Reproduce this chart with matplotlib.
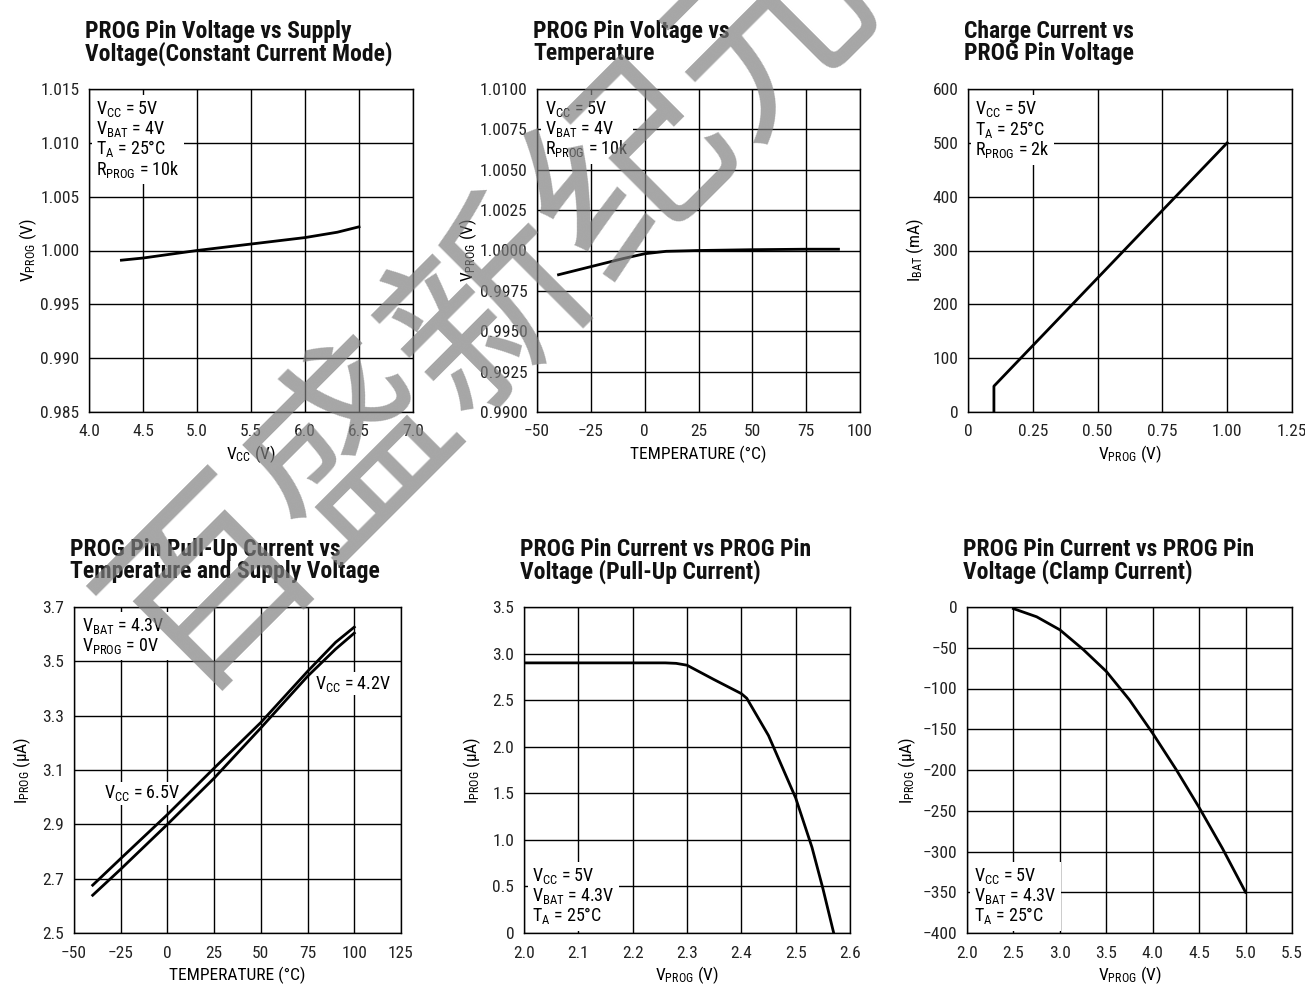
import matplotlib
matplotlib.use("Agg")
import matplotlib.pyplot as plt
from matplotlib import font_manager

W, H = 1305, 985

# a narrow face looks closest to the datasheet font
ttf = font_manager.fontManager.ttflist
names = {f.name for f in ttf}
STRETCH = 'normal'
if 'Liberation Sans Narrow' in names:
    FONT = 'Liberation Sans Narrow'
elif 'Roboto Condensed' in names:
    FONT = 'Roboto Condensed'
else:
    FONT = 'DejaVu Sans'
    if any(f.name == 'DejaVu Sans' and f.stretch == 'condensed' for f in ttf):
        STRETCH = 'condensed'
plt.rcParams['font.family'] = [FONT, 'DejaVu Sans']
plt.rcParams['font.stretch'] = STRETCH
plt.rcParams['mathtext.default'] = 'regular'

# PROG pin voltage vs supply voltage
vcc = [4.3, 4.5, 5.0, 5.5, 6.0, 6.3, 6.5]
vprog_vcc = [0.9991, 0.9993, 1.0000, 1.0006, 1.0012, 1.0017, 1.0022]

# PROG pin voltage vs temperature
temp2 = [-40, -25, -10, 0, 10, 25, 50, 75, 90]
vprog_temp = [0.99850, 0.99900, 0.99950, 0.99980, 0.99995, 1.00000, 1.00005, 1.00008, 1.00008]

# charge current vs PROG pin voltage
vprog3 = [0.1, 0.1, 1.0]
ibat = [0, 48, 500]

# pull-up current vs temperature, two supply voltages
temp4 = [-40, -25, 0, 25, 50, 75, 90, 100]
iprog_65 = [2.676, 2.774, 2.936, 3.107, 3.275, 3.463, 3.570, 3.626]
iprog_42 = [2.639, 2.735, 2.900, 3.070, 3.255, 3.445, 3.545, 3.604]

# pull-up current vs PROG voltage
vprog5 = [2.0, 2.1, 2.2, 2.26, 2.28, 2.30, 2.35, 2.40, 2.41, 2.45, 2.50, 2.53, 2.55, 2.57]
iprog5 = [2.90, 2.90, 2.90, 2.90, 2.895, 2.875, 2.72, 2.57, 2.52, 2.12, 1.45, 0.92, 0.48, 0.0]

# clamp current vs PROG voltage
vprog6 = [2.5, 2.75, 3.0, 3.25, 3.5, 3.75, 4.0, 4.25, 4.5, 4.75, 5.0]
iprog6 = [-2, -12, -28, -52, -79, -114, -155, -199, -246, -296, -350]

# ticks
x1_ticks = [4.0, 4.5, 5.0, 5.5, 6.0, 6.5, 7.0]
x1_labels = ['4.0', '4.5', '5.0', '5.5', '6.0', '6.5', '7.0']
y1_ticks = [0.985, 0.990, 0.995, 1.000, 1.005, 1.010, 1.015]
y1_labels = ['0.985', '0.990', '0.995', '1.000', '1.005', '1.010', '1.015']
x2_ticks = [-50, -25, 0, 25, 50, 75, 100]
x2_labels = ['\u221250', '\u221225', '0', '25', '50', '75', '100']
y2_ticks = [0.99, 0.9925, 0.995, 0.9975, 1.0, 1.0025, 1.005, 1.0075, 1.01]
y2_labels = ['0.9900', '0.9925', '0.9950', '0.9975', '1.0000', '1.0025', '1.0050', '1.0075', '1.0100']
x3_ticks = [0, 0.25, 0.5, 0.75, 1.0, 1.25]
x3_labels = ['0', '0.25', '0.50', '0.75', '1.00', '1.25']
y3_ticks = [0, 100, 200, 300, 400, 500, 600]
y3_labels = ['0', '100', '200', '300', '400', '500', '600']
x4_ticks = [-50, -25, 0, 25, 50, 75, 100, 125]
x4_labels = ['\u221250', '\u221225', '0', '25', '50', '75', '100', '125']
y4_ticks = [2.5, 2.7, 2.9, 3.1, 3.3, 3.5, 3.7]
y4_labels = ['2.5', '2.7', '2.9', '3.1', '3.3', '3.5', '3.7']
x5_ticks = [2.0, 2.1, 2.2, 2.3, 2.4, 2.5, 2.6]
x5_labels = ['2.0', '2.1', '2.2', '2.3', '2.4', '2.5', '2.6']
y5_ticks = [0, 0.5, 1.0, 1.5, 2.0, 2.5, 3.0, 3.5]
y5_labels = ['0', '0.5', '1.0', '1.5', '2.0', '2.5', '3.0', '3.5']
x6_ticks = [2.0, 2.5, 3.0, 3.5, 4.0, 4.5, 5.0, 5.5]
x6_labels = ['2.0', '2.5', '3.0', '3.5', '4.0', '4.5', '5.0', '5.5']
y6_ticks = [-400, -350, -300, -250, -200, -150, -100, -50, 0]
y6_labels = ['\u2212400', '\u2212350', '\u2212300', '\u2212250', '\u2212200',
             '\u2212150', '\u2212100', '\u221250', '0']

fig = plt.figure(figsize=(W / 100, H / 100), dpi=100)

FS = 12.5    # ticks and axis labels
NFS = 13     # condition notes
TFS = 17     # panel titles


def fx(px):
    return px / W


def fy(py):
    return 1 - py / H


def panel(box, xt, xl, yt, yl, title, xlabel, ylabel, ylab_x, note, note_xy):
    l, t, r, b = box
    ax = fig.add_axes([fx(l), fy(b), (r - l) / W, (b - t) / H])
    ax.set_xlim(xt[0], xt[-1])
    ax.set_ylim(yt[0], yt[-1])
    ax.set_xticks(xt)
    ax.set_xticklabels(xl)
    ax.set_yticks(yt)
    ax.set_yticklabels(yl)
    ax.tick_params(axis='y', length=0, pad=7, labelsize=FS, colors='#222222')
    ax.tick_params(axis='x', length=0, pad=9, labelsize=FS, colors='#222222')
    ax.grid(True, color='black', lw=1.0)
    for s in ax.spines.values():
        s.set_linewidth(1.0)
    fig.text(fx(l - 4), fy(t - 69), title, fontsize=TFS, fontweight='bold',
             va='top', ha='left', linespacing=0.92, color='#111111')
    fig.text(fx((l + r) / 2), fy(b + 42), xlabel, fontsize=FS, ha='center', va='center')
    fig.text(fx(ylab_x), fy((t + b) / 2), ylabel, fontsize=FS, rotation=90,
             ha='center', va='center')
    ax.text(fx(note_xy[0]), fy(note_xy[1]), note, transform=fig.transFigure, fontsize=NFS,
            va='top', ha='left', linespacing=0.98, zorder=3,
            bbox=dict(fc='white', ec='none', pad=3))
    return ax


ax1 = panel((89, 89, 413, 412), x1_ticks, x1_labels, y1_ticks, y1_labels,
            'PROG Pin Voltage vs Supply\nVoltage(Constant Current Mode)',
            '$V_{CC}$ (V)', '$V_{PROG}$ (V)', 28,
            '$V_{CC}$ = 5V\n$V_{BAT}$ = 4V\n$T_{A}$ = 25\u00b0C\n$R_{PROG}$ = 10k', (96, 99))
ax1.plot(vcc, vprog_vcc, color='black', lw=2.0, zorder=4)

ax2 = panel((537, 89, 860, 412), x2_ticks, x2_labels, y2_ticks, y2_labels,
            'PROG Pin Voltage vs\nTemperature',
            'TEMPERATURE (\u00b0C)', '$V_{PROG}$ (V)', 468,
            '$V_{CC}$ = 5V\n$V_{BAT}$ = 4V\n$R_{PROG}$ = 10k', (545, 99))
ax2.plot(temp2, vprog_temp, color='black', lw=2.0, zorder=4)

ax3 = panel((968, 89, 1292, 412), x3_ticks, x3_labels, y3_ticks, y3_labels,
            'Charge Current vs\nPROG Pin Voltage',
            '$V_{PROG}$ (V)', '$I_{BAT}$ (mA)', 915,
            '$V_{CC}$ = 5V\n$T_{A}$ = 25\u00b0C\n$R_{PROG}$ = 2k', (975, 99))
ax3.plot(vprog3, ibat, color='black', lw=2.0, zorder=4)

ax4 = panel((74, 607, 401, 933), x4_ticks, x4_labels, y4_ticks, y4_labels,
            'PROG Pin Pull-Up Current vs\nTemperature and Supply Voltage',
            'TEMPERATURE (\u00b0C)', '$I_{PROG}$ (\u03bcA)', 22,
            '$V_{BAT}$ = 4.3V\n$V_{PROG}$ = 0V', (82, 616))
ax4.plot(temp4, iprog_65, color='black', lw=2.0, zorder=4)
ax4.plot(temp4, iprog_42, color='black', lw=2.0, zorder=4)
ax4.text(-34, 3.015, '$V_{CC}$ = 6.5V', fontsize=NFS, va='center', ha='left',
         bbox=dict(fc='white', ec='none', pad=1), zorder=3)
ax4.text(79, 3.417, '$V_{CC}$ = 4.2V', fontsize=NFS, va='center', ha='left',
         bbox=dict(fc='white', ec='none', pad=1), zorder=3)

ax5 = panel((524, 607, 850, 933), x5_ticks, x5_labels, y5_ticks, y5_labels,
            'PROG Pin Current vs PROG Pin\nVoltage (Pull-Up Current)',
            '$V_{PROG}$ (V)', '$I_{PROG}$ (\u03bcA)', 472,
            '$V_{CC}$ = 5V\n$V_{BAT}$ = 4.3V\n$T_{A}$ = 25\u00b0C', (532, 866))
ax5.plot(vprog5, iprog5, color='black', lw=2.0, zorder=4)

ax6 = panel((967, 607, 1292, 933), x6_ticks, x6_labels, y6_ticks, y6_labels,
            'PROG Pin Current vs PROG Pin\nVoltage (Clamp Current)',
            '$V_{PROG}$ (V)', '$I_{PROG}$ (\u03bcA)', 907,
            '$V_{CC}$ = 5V\n$V_{BAT}$ = 4.3V\n$T_{A}$ = 25\u00b0C', (974, 866))
ax6.plot(vprog6, iprog6, color='black', lw=2.0, zorder=4)

# watermark, semi-transparent so the text under it still shows
fig.text(fx(492), fy(308), '百盛新纪元', fontsize=142, rotation=45, color='#808080',
         alpha=0.7, ha='center', va='center', family=['Noto Sans CJK SC', 'DejaVu Sans'],
         fontweight='normal', fontstretch='normal', zorder=10)

fig.savefig('out.png', dpi=100)
